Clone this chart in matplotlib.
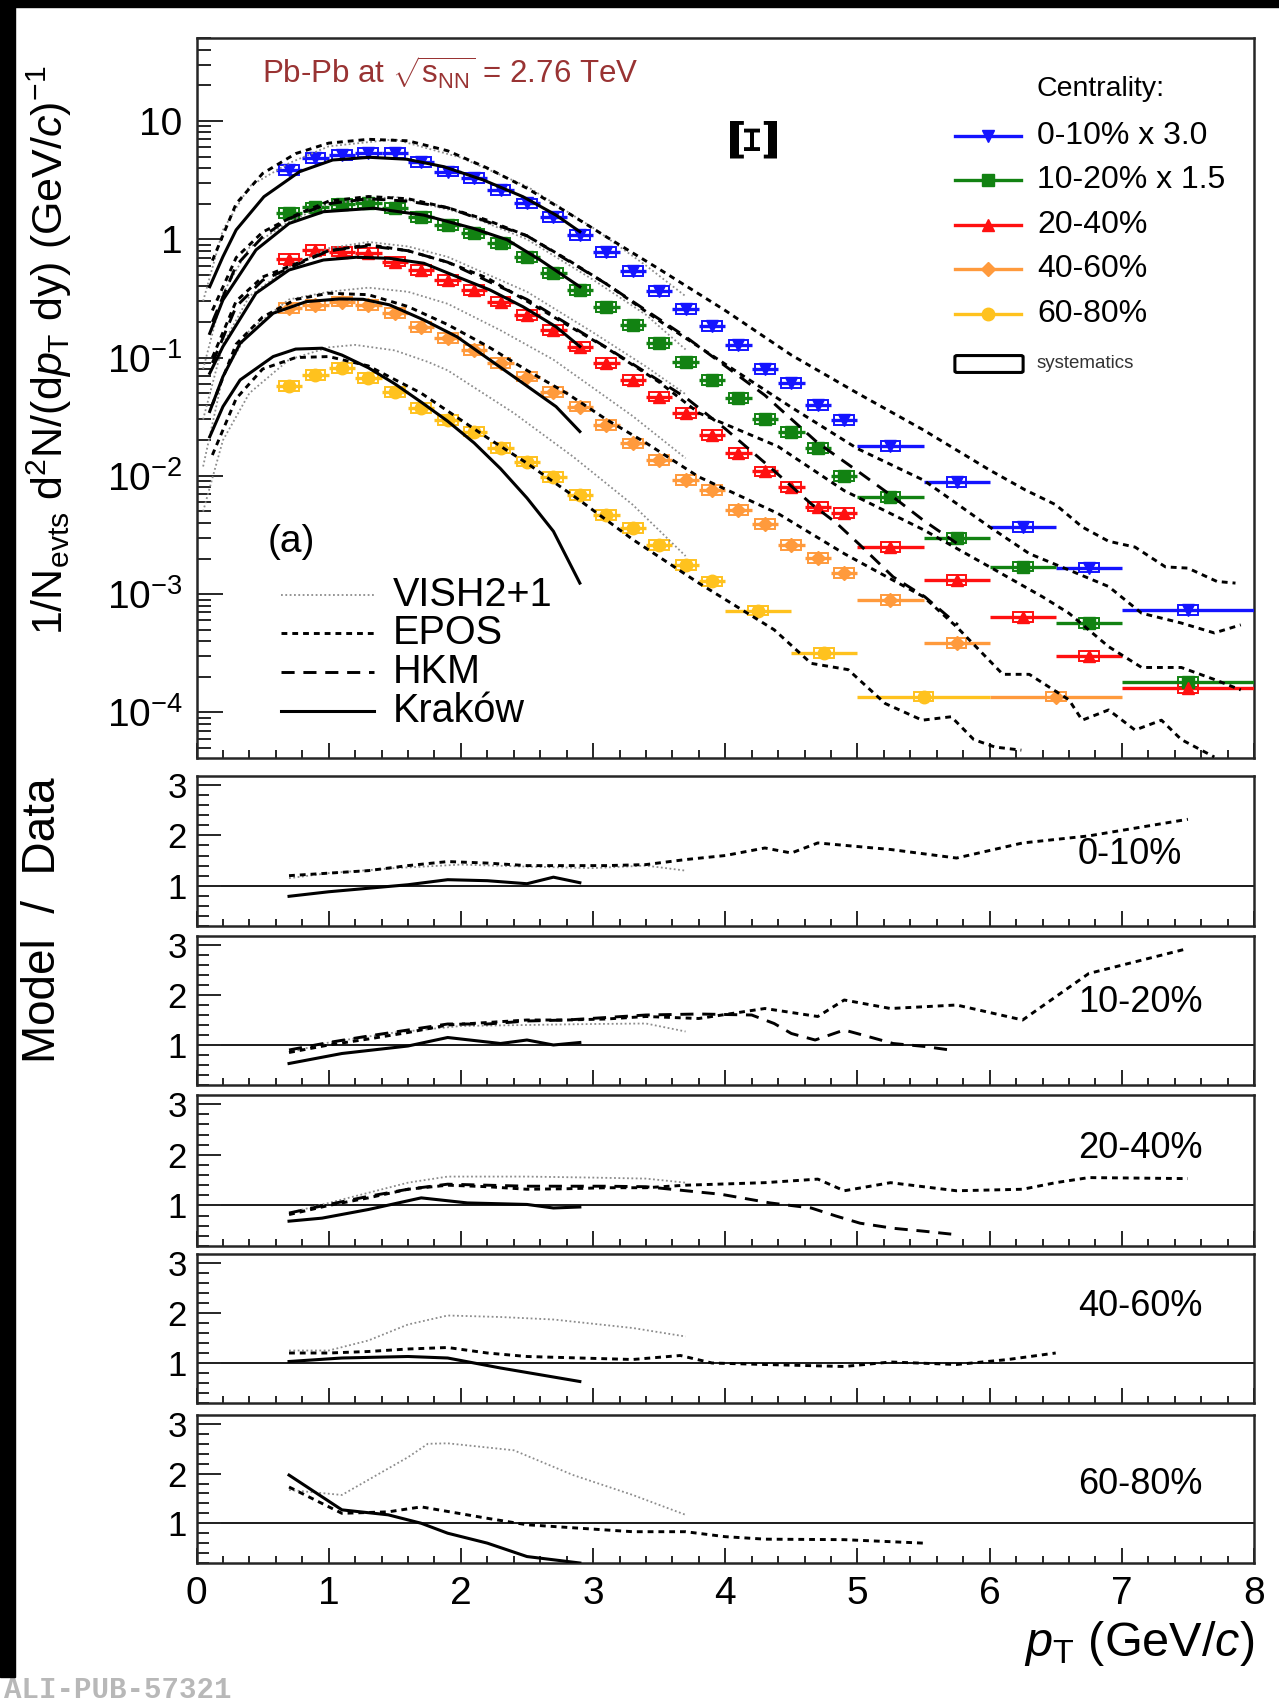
import matplotlib.pyplot as plt
from matplotlib.patches import Rectangle, FancyBboxPatch
from matplotlib.ticker import FixedLocator, FixedFormatter, MultipleLocator, NullFormatter

plt.rcParams['font.family'] = ['Liberation Sans', 'DejaVu Sans']
plt.rcParams['mathtext.fontset'] = 'custom'
plt.rcParams['mathtext.rm'] = 'Liberation Sans'
plt.rcParams['mathtext.it'] = 'Liberation Sans:italic'
plt.rcParams['mathtext.bf'] = 'Liberation Sans:bold'

W, H = 1279, 1702

# ---------------- measured Xi spectra (bin centres, half widths, yields) ----------------
pt_full = [0.7, 0.9, 1.1, 1.3, 1.5, 1.7, 1.9, 2.1, 2.3, 2.5, 2.7, 2.9, 3.1, 3.3, 3.5, 3.7,
           3.9, 4.1, 4.3, 4.5, 4.7, 4.9, 5.25, 5.75, 6.25, 6.75, 7.5]
hw_full = [0.1] * 22 + [0.25, 0.25, 0.25, 0.25, 0.5]
pt_4060 = [0.7, 0.9, 1.1, 1.3, 1.5, 1.7, 1.9, 2.1, 2.3, 2.5, 2.7, 2.9, 3.1, 3.3, 3.5, 3.7,
           3.9, 4.1, 4.3, 4.5, 4.7, 4.9, 5.25, 5.75, 6.5]
hw_4060 = [0.1] * 22 + [0.25, 0.25, 0.5]
pt_6080 = [0.7, 0.9, 1.1, 1.3, 1.5, 1.7, 1.9, 2.1, 2.3, 2.5, 2.7, 2.9, 3.1, 3.3, 3.5, 3.7,
           3.9, 4.25, 4.75, 5.5]
hw_6080 = [0.1] * 17 + [0.25, 0.25, 0.5]

y_0010 = [3.85, 4.84, 5.17, 5.40, 5.33, 4.53, 3.73, 3.28, 2.61, 2.01, 1.55, 1.09, 0.785, 0.54,
          0.366, 0.258, 0.185, 0.128, 0.080, 0.0607, 0.0397, 0.0297, 0.018, 0.00893, 0.00372,
          0.00168, 0.000736]
y_1020 = [1.66, 1.86, 1.99, 2.01, 1.83, 1.55, 1.32, 1.12, 0.925, 0.713, 0.516, 0.373, 0.269,
          0.189, 0.132, 0.0923, 0.0647, 0.0453, 0.0301, 0.0236, 0.0171, 0.00997, 0.00667,
          0.00297, 0.00171, 0.000567, 0.000182]
y_2040 = [0.678, 0.813, 0.786, 0.761, 0.647, 0.55, 0.453, 0.373, 0.297, 0.229, 0.171, 0.124,
          0.0895, 0.0647, 0.0468, 0.0338, 0.0222, 0.0157, 0.0109, 0.0081, 0.0055, 0.00483,
          0.00252, 0.00132, 0.000638, 0.000301, 0.00016]
y_4060 = [0.261, 0.279, 0.297, 0.279, 0.237, 0.182, 0.146, 0.116, 0.0895, 0.069, 0.0515,
          0.0385, 0.0269, 0.0188, 0.0136, 0.00923, 0.0076, 0.00515, 0.00392, 0.0026, 0.00201,
          0.0015, 0.000894, 0.000389, 0.000136]
y_6080 = [0.0576, 0.0713, 0.0813, 0.0668, 0.0515, 0.0373, 0.0297, 0.0237, 0.0171, 0.0132,
          0.00984, 0.0069, 0.00468, 0.00361, 0.0026, 0.00177, 0.00128, 0.000727, 0.00032,
          0.000136]

cent_labels = ['0-10% x 3.0', '10-20% x 1.5', '20-40%', '40-60%', '60-80%']
cent_short = ['0-10%', '10-20%', '20-40%', '40-60%', '60-80%']
cent_colors = ['#1414ff', '#128212', '#ff1010', '#ff9a3c', '#ffc21e']
cent_markers = ['v', 's', '^', 'D', 'o']

# ---------------- model curves on the spectra ----------------
# EPOS
epos_pt = [
    [0.12, 0.3, 0.5, 0.75, 1.0, 1.3, 1.6, 1.9, 2.2, 2.5, 2.8, 3.1, 3.5, 4.0, 4.5, 5.0, 5.5,
     6.0, 6.27, 6.5, 6.7, 6.9, 7.1, 7.33, 7.5, 7.72, 7.86],
    [0.12, 0.3, 0.5, 0.75, 1.0, 1.3, 1.6, 1.9, 2.2, 2.5, 2.8, 3.1, 3.5, 4.0, 4.5, 5.0, 5.5,
     6.0, 6.3, 6.6, 6.9, 7.15, 7.45, 7.7, 7.9],
    [0.12, 0.3, 0.5, 0.75, 1.0, 1.3, 1.6, 1.9, 2.2, 2.5, 2.8, 3.1, 3.5, 3.8, 4.4, 4.9, 5.5,
     6.0, 6.4, 6.6, 6.9, 7.15, 7.45, 7.7, 7.9],
    [0.12, 0.3, 0.5, 0.75, 1.0, 1.3, 1.6, 1.9, 2.2, 2.5, 2.8, 3.1, 3.4, 3.8, 4.4, 4.9, 5.5,
     5.75, 6.1, 6.3, 6.6, 6.7, 6.9, 7.1, 7.3, 7.45, 7.7],
    [0.12, 0.3, 0.5, 0.75, 1.0, 1.3, 1.7, 2.2, 2.5, 2.9, 3.3, 3.8, 4.37, 4.65, 4.93, 5.21,
     5.49, 5.71, 5.88, 6.04, 6.24],
]
epos_y = [
    [0.66, 2.0, 3.6, 5.3, 6.5, 7.0, 6.8, 5.6, 4.0, 2.7, 1.7, 1.05, 0.56, 0.25, 0.105, 0.05,
     0.0244, 0.0112, 0.0076, 0.0057, 0.0037, 0.0028, 0.0025, 0.0017, 0.00166, 0.00128, 0.00124],
    [0.25, 0.7, 1.15, 1.6, 2.1, 2.3, 2.2, 1.85, 1.45, 1.07, 0.68, 0.42, 0.205, 0.088, 0.038,
     0.017, 0.0092, 0.0037, 0.0022, 0.0016, 0.00116, 0.00069, 0.00057, 0.00047, 0.00055],
    [0.1, 0.3, 0.48, 0.62, 0.8, 0.9, 0.8, 0.64, 0.47, 0.3, 0.19, 0.121, 0.062, 0.034, 0.0177,
     0.0075, 0.0035, 0.0017, 0.00095, 0.00069, 0.00036, 0.00024, 0.00024, 0.00019, 0.000155],
    [0.04, 0.13, 0.22, 0.31, 0.35, 0.34, 0.27, 0.19, 0.125, 0.078, 0.05, 0.03, 0.019, 0.0098,
     0.0048, 0.0022, 0.00095, 0.00053, 0.00021, 0.00021, 0.000128, 8.6e-5, 0.000105, 7.1e-5,
     8.6e-5, 5.9e-5, 4.2e-5],
    [0.015, 0.045, 0.08, 0.1, 0.102, 0.085, 0.05, 0.021, 0.0128, 0.0062, 0.0029, 0.00124,
     0.0005, 0.00026, 0.00023, 0.000119, 8.6e-5, 9.2e-5, 5.9e-5, 5.1e-5, 4.8e-5],
]

# HKM (10-20% and 20-40%)
hkm_pt = [
    [0.12, 0.3, 0.5, 0.7, 1.0, 1.3, 1.6, 1.9, 2.5, 3.1, 3.7, 4.3, 4.7, 5.0, 5.25, 5.5, 5.75],
    [0.12, 0.3, 0.5, 0.7, 1.0, 1.3, 1.6, 1.9, 2.5, 3.1, 3.7, 4.0, 4.34, 4.65, 4.84, 5.02, 5.27,
     5.51, 5.76],
]
hkm_y = [
    [0.2, 0.6, 1.05, 1.5, 2.0, 2.2, 2.1, 1.85, 1.07, 0.42, 0.15, 0.048, 0.019, 0.011, 0.0069,
     0.0042, 0.0027],
    [0.09, 0.27, 0.45, 0.57, 0.8, 0.88, 0.8, 0.64, 0.31, 0.122, 0.046, 0.025, 0.0118, 0.0058,
     0.004, 0.0026, 0.0014, 0.00095, 0.00055],
]

# Krakow
krak_pt = [
    [0.1, 0.2, 0.3, 0.51, 0.78, 1.03, 1.31, 1.59, 1.87, 2.17, 2.47, 2.72, 2.9],
    [0.1, 0.2, 0.45, 0.7, 0.96, 1.34, 1.72, 2.09, 2.35, 2.6, 2.9],
    [0.1, 0.2, 0.45, 0.7, 0.96, 1.21, 1.46, 1.72, 1.97, 2.22, 2.47, 2.72, 2.9],
    [0.1, 0.2, 0.33, 0.58, 0.83, 1.08, 1.26, 1.46, 1.72, 1.97, 2.22, 2.47, 2.72, 2.9],
    [0.1, 0.2, 0.33, 0.58, 0.75, 0.95, 1.1, 1.3, 1.5, 1.7, 1.9, 2.1, 2.3, 2.5, 2.7, 2.9],
]
krak_y = [
    [0.397, 0.713, 1.2, 2.29, 3.73, 4.68, 4.93, 4.75, 4.11, 3.17, 2.29, 1.6, 1.16],
    [0.16, 0.307, 0.813, 1.36, 1.71, 1.83, 1.6, 1.24, 0.99, 0.668, 0.397],
    [0.0736, 0.124, 0.35, 0.55, 0.668, 0.705, 0.69, 0.627, 0.483, 0.373, 0.269, 0.182, 0.124],
    [0.035, 0.069, 0.132, 0.237, 0.297, 0.313, 0.311, 0.279, 0.208, 0.15, 0.0955, 0.0607,
     0.0385, 0.0237],
    [0.0214, 0.0385, 0.0647, 0.102, 0.118, 0.12, 0.105, 0.082, 0.06, 0.042, 0.029, 0.019,
     0.0115, 0.0065, 0.0034, 0.00124],
]

# VISH2+1
vish_pt = [
    [0.05, 0.2, 0.4, 0.7, 1.0, 1.5, 2.0, 2.5, 3.0, 3.4, 3.7],
    [0.05, 0.2, 0.4, 0.7, 1.0, 1.5, 2.0, 2.5, 3.0, 3.4, 3.7],
    [0.05, 0.2, 0.4, 0.7, 1.0, 1.3, 1.6, 1.9, 2.5, 3.0, 3.4, 3.7],
    [0.05, 0.2, 0.4, 0.7, 1.0, 1.3, 1.6, 1.9, 2.3, 2.7, 3.3, 3.7],
    [0.05, 0.2, 0.4, 0.7, 1.0, 1.2, 1.5, 1.75, 1.9, 2.4, 2.85, 3.3, 3.7],
]
vish_y = [
    [0.3, 1.2, 2.8, 4.4, 6.1, 7.0, 4.9, 2.8, 1.25, 0.6, 0.33],
    [0.08, 0.35, 0.85, 1.41, 2.0, 2.29, 1.68, 1.0, 0.455, 0.23, 0.117],
    [0.03, 0.13, 0.33, 0.58, 0.84, 0.95, 0.87, 0.71, 0.36, 0.163, 0.084, 0.049],
    [0.012, 0.07, 0.17, 0.31, 0.36, 0.39, 0.36, 0.285, 0.17, 0.096, 0.032, 0.0141],
    [0.005, 0.02, 0.05, 0.096, 0.122, 0.128, 0.115, 0.092, 0.078, 0.034, 0.0145, 0.0057,
     0.0021],
]

# ---------------- model / data ratios ----------------
r_epos_pt = [
    [0.7, 1.0, 1.3, 1.6, 1.9, 2.2, 2.5, 2.8, 3.1, 3.4, 3.7, 4.0, 4.3, 4.5, 4.7, 5.25, 5.75,
     6.25, 6.75, 7.5],
    [0.7, 1.0, 1.3, 1.6, 1.9, 2.2, 2.5, 2.8, 3.1, 3.4, 3.8, 4.3, 4.7, 4.9, 5.25, 5.75, 6.25,
     6.75, 7.5],
    [0.7, 1.0, 1.3, 1.6, 1.9, 2.2, 2.5, 2.8, 3.1, 3.4, 3.7, 4.3, 4.7, 4.9, 5.25, 5.75, 6.25,
     6.5, 6.75, 7.5],
    [0.7, 1.0, 1.3, 1.6, 1.9, 2.2, 2.5, 2.9, 3.3, 3.66, 3.9, 4.3, 4.9, 5.25, 5.75, 6.14, 6.5],
    [0.7, 1.1, 1.45, 1.7, 2.2, 2.5, 3.3, 3.7, 4.0, 4.3, 4.9, 5.5],
]
r_epos = [
    [1.2, 1.25, 1.3, 1.4, 1.48, 1.45, 1.4, 1.4, 1.4, 1.42, 1.52, 1.6, 1.75, 1.65, 1.85, 1.72,
     1.55, 1.85, 1.99, 2.32],
    [0.85, 1.0, 1.12, 1.25, 1.4, 1.45, 1.5, 1.5, 1.52, 1.57, 1.53, 1.73, 1.57, 1.9, 1.73, 1.8,
     1.5, 2.43, 2.93],
    [0.82, 1.0, 1.15, 1.32, 1.4, 1.37, 1.32, 1.33, 1.35, 1.35, 1.4, 1.45, 1.52, 1.29, 1.45,
     1.29, 1.32, 1.45, 1.55, 1.53],
    [1.2, 1.2, 1.23, 1.28, 1.31, 1.2, 1.13, 1.1, 1.07, 1.15, 1.0, 0.97, 0.93, 1.02, 0.97, 1.07,
     1.2],
    [1.73, 1.2, 1.23, 1.33, 1.1, 0.97, 0.83, 0.83, 0.73, 0.68, 0.67, 0.6],
]
r_hkm_pt = [
    None,
    [0.7, 1.0, 1.3, 1.6, 1.9, 2.2, 2.5, 2.8, 3.1, 3.4, 3.8, 4.2, 4.37, 4.5, 4.68, 4.9, 5.08,
     5.27, 5.51, 5.7],
    [0.7, 1.0, 1.3, 1.6, 1.9, 2.2, 2.5, 2.8, 3.1, 3.4, 3.97, 4.34, 4.65, 4.84, 5.02, 5.27,
     5.51, 5.76],
    None,
    None,
]
r_hkm = [
    None,
    [0.9, 1.05, 1.18, 1.3, 1.42, 1.42, 1.48, 1.5, 1.55, 1.6, 1.62, 1.6, 1.43, 1.23, 1.1, 1.3,
     1.17, 1.03, 0.97, 0.9],
    [0.85, 1.02, 1.18, 1.32, 1.42, 1.4, 1.38, 1.38, 1.38, 1.37, 1.22, 1.05, 0.95, 0.79, 0.65,
     0.55, 0.49, 0.42],
    None,
    None,
]
r_krak_pt = [
    [0.7, 1.0, 1.3, 1.6, 1.9, 2.2, 2.5, 2.7, 2.9],
    [0.7, 1.1, 1.6, 1.9, 2.3, 2.5, 2.7, 2.9],
    [0.7, 0.95, 1.3, 1.7, 2.05, 2.5, 2.7, 2.9],
    [0.7, 1.1, 1.6, 1.9, 2.3, 2.9],
    [0.7, 1.1, 1.45, 1.7, 1.9, 2.2, 2.5, 2.9],
]
r_krak = [
    [0.79, 0.88, 0.95, 1.02, 1.12, 1.1, 1.04, 1.17, 1.06],
    [0.63, 0.83, 0.98, 1.15, 1.03, 1.1, 1.0, 1.05],
    [0.69, 0.75, 0.92, 1.15, 1.05, 1.02, 0.95, 0.97],
    [1.03, 1.1, 1.13, 1.1, 0.9, 0.63],
    [1.97, 1.27, 1.17, 1.0, 0.8, 0.6, 0.33, 0.2],
]
r_vish_pt = [
    [0.7, 1.0, 1.5, 2.0, 2.5, 3.0, 3.4, 3.7],
    [0.7, 1.0, 1.5, 2.0, 2.5, 3.0, 3.4, 3.7],
    [0.7, 1.0, 1.3, 1.6, 1.9, 2.5, 3.0, 3.4, 3.7],
    [0.7, 1.0, 1.3, 1.6, 1.9, 2.3, 2.7, 3.3, 3.7],
    [0.7, 1.1, 1.6, 1.75, 1.9, 2.4, 2.85, 3.3, 3.7],
]
r_vish = [
    [1.15, 1.25, 1.35, 1.42, 1.38, 1.35, 1.4, 1.3],
    [0.85, 1.05, 1.25, 1.38, 1.4, 1.42, 1.43, 1.27],
    [0.85, 1.05, 1.25, 1.45, 1.57, 1.57, 1.55, 1.53, 1.45],
    [1.25, 1.25, 1.45, 1.77, 1.95, 1.92, 1.87, 1.7, 1.53],
    [1.67, 1.57, 2.33, 2.6, 2.61, 2.47, 1.97, 1.57, 1.17],
]

# line styles for the four models
STY_VISH = dict(color='#8c8c8c', lw=1.3, ls=(0, (1.0, 1.4)))
STY_EPOS = dict(color='black', lw=2.1, ls=(0, (2.0, 1.7)))
STY_HKM = dict(color='black', lw=2.1, ls=(0, (4.5, 3.0)))
STY_KRAK = dict(color='black', lw=2.2, ls='-')


def px_axes(fig, left, top, right, bottom):
    return fig.add_axes([left / W, 1 - bottom / H, (right - left) / W, (bottom - top) / H])


def style_frame(ax):
    for sp in ax.spines.values():
        sp.set_linewidth(1.8)
        sp.set_color('#262626')
    ax.tick_params(which='both', direction='in', top=False, right=False, width=1.4,
                   color='#262626')


fig = plt.figure(figsize=(W / 100, H / 100), dpi=100)
fig.patch.set_facecolor('white')

# ---------------- spectra panel ----------------
ax = px_axes(fig, 196.5, 38, 1254, 758)
style_frame(ax)
ax.set_yscale('log')
ax.set_xlim(0, 8)
ax.set_ylim(4.12e-5, 50.3)

spectra = [(pt_full, hw_full, y_0010), (pt_full, hw_full, y_1020), (pt_full, hw_full, y_2040),
           (pt_4060, hw_4060, y_4060), (pt_6080, hw_6080, y_6080)]
for (pt, hw, yy), col, mk in zip(spectra, cent_colors, cent_markers):
    for x, v in zip(pt, yy):
        ax.add_patch(Rectangle((x - 0.075, v * 0.91), 0.15, v * 0.19, fill=False,
                               edgecolor=col, lw=1.4, zorder=2))
    ax.errorbar(pt, yy, xerr=hw, fmt=mk, color=col, ms=9 if mk != 'D' else 7,
                elinewidth=2.4, capsize=0, zorder=3)

for px_, py_ in zip(vish_pt, vish_y):
    ax.plot(px_, py_, zorder=4, **STY_VISH)
for px_, py_ in zip(epos_pt, epos_y):
    ax.plot(px_, py_, zorder=5, **STY_EPOS)
for px_, py_ in zip(hkm_pt, hkm_y):
    ax.plot(px_, py_, zorder=5, **STY_HKM)
for px_, py_ in zip(krak_pt, krak_y):
    ax.plot(px_, py_, zorder=5, **STY_KRAK)

ax.xaxis.set_major_locator(MultipleLocator(1))
ax.xaxis.set_minor_locator(MultipleLocator(0.2))
ax.xaxis.set_major_formatter(NullFormatter())
ax.tick_params(axis='x', which='major', length=11)
ax.tick_params(axis='x', which='minor', length=5.5)
decades = [1e-4, 1e-3, 1e-2, 1e-1, 1, 10]
ax.yaxis.set_major_locator(FixedLocator(decades))
ax.yaxis.set_major_formatter(FixedFormatter([r'10$^{-4}$', r'10$^{-3}$', r'10$^{-2}$',
                                             r'10$^{-1}$', '1', '10']))
minors = [m * d for d in [1e-5, 1e-4, 1e-3, 1e-2, 1e-1, 1, 10] for m in range(2, 10)]
ax.yaxis.set_minor_locator(FixedLocator(minors))
ax.yaxis.set_minor_formatter(NullFormatter())
ax.tick_params(axis='y', which='major', length=19, labelsize=28, pad=10)
ax.tick_params(axis='y', which='minor', length=10)


def to_ax(px, py):
    return (px - 196.5) / 1057.5, (758 - py) / 720


# collision system label and particle
ax.text(*to_ax(262, 73), r'Pb-Pb at $\sqrt{\rm s_{NN}}$ = 2.76 TeV', color='#993333',
        fontsize=22.5, va='center', ha='left', transform=ax.transAxes)
ax.text(*to_ax(757, 136), '\u039e', fontsize=46, fontweight='bold', family='DejaVu Serif',
        rotation=90, ha='center', va='center', transform=ax.transAxes)
ax.text(*to_ax(291, 542), '(a)', fontsize=28, ha='center', va='center', transform=ax.transAxes)

# centrality legend
ax.text(*to_ax(1037, 89), 'Centrality:', fontsize=20.5, va='center', transform=ax.transAxes)
leg_rows = [136, 180, 225, 269, 314]
for lab, col, mk, py in zip(cent_labels, cent_colors, cent_markers, leg_rows):
    x0, y0 = to_ax(955, py)
    x1, _ = to_ax(1021, py)
    xm, _ = to_ax(988, py)
    ax.plot([x0, x1], [y0, y0], color=col, lw=2.4, transform=ax.transAxes, zorder=6)
    ax.plot([xm], [y0], marker=mk, color=col, ms=9 if mk != 'D' else 7,
            transform=ax.transAxes, zorder=6)
    ax.text(*to_ax(1037, py), lab, fontsize=23, va='center', transform=ax.transAxes)
bx0, by0 = to_ax(957, 371)
bx1, by1 = to_ax(1021, 357)
ax.add_patch(FancyBboxPatch((bx0, by0), bx1 - bx0, by1 - by0, boxstyle='round,pad=0.002',
                            fill=False, edgecolor='black', lw=2.2, transform=ax.transAxes))
ax.text(*to_ax(1037, 364), 'systematics', fontsize=13.5, va='center', color='#333333',
        transform=ax.transAxes)

# model legend
model_rows = [(595, 'VISH2+1', STY_VISH), (633, 'EPOS', STY_EPOS), (672, 'HKM', STY_HKM),
              (711, 'Krak\u00f3w', STY_KRAK)]
for py, lab, sty in model_rows:
    x0, y0 = to_ax(281, py)
    x1, _ = to_ax(374, py)
    ax.plot([x0, x1], [y0, y0], transform=ax.transAxes, **sty)
    ax.text(*to_ax(393, py), lab, fontsize=28.5, va='center', transform=ax.transAxes)

# ---------------- model / data panels ----------------
ratio_boxes = [(776, 926), (936, 1085), (1095, 1246), (1254, 1403), (1415, 1563)]
label_y = [855, 1002, 1148, 1306, 1484]
for i, (top, bot) in enumerate(ratio_boxes):
    rax = px_axes(fig, 196.5, top, 1254, bot)
    style_frame(rax)
    rax.set_xlim(0, 8)
    rax.set_ylim(0.2, 3.18)
    rax.axhline(1, color='#1a1a1a', lw=1.4, zorder=1)
    rax.plot(r_vish_pt[i], r_vish[i], zorder=3, **STY_VISH)
    rax.plot(r_epos_pt[i], r_epos[i], zorder=4, **STY_EPOS)
    if r_hkm_pt[i] is not None:
        rax.plot(r_hkm_pt[i], r_hkm[i], zorder=4, **STY_HKM)
    rax.plot(r_krak_pt[i], r_krak[i], zorder=4, **STY_KRAK)
    rax.xaxis.set_major_locator(MultipleLocator(1))
    rax.xaxis.set_minor_locator(MultipleLocator(0.2))
    rax.yaxis.set_major_locator(FixedLocator([1, 2, 3]))
    rax.yaxis.set_minor_locator(MultipleLocator(0.2))
    rax.tick_params(axis='x', which='major', length=11)
    rax.tick_params(axis='x', which='minor', length=5)
    rax.tick_params(axis='y', which='major', length=17, labelsize=25, pad=7)
    rax.tick_params(axis='y', which='minor', length=8.5)
    if i < 4:
        rax.xaxis.set_major_formatter(NullFormatter())
    else:
        rax.tick_params(axis='x', which='major', labelsize=28, pad=9)
    rax.text((1078 - 196.5) / 1057.5, (bot - label_y[i]) / (bot - top), cent_short[i],
             fontsize=26, va='center', ha='left', transform=rax.transAxes)

# axis titles
fig.text(49 / W, 1 - 350 / H,
         r'1/N$_{\rm evts}$ d$^{2}$N/(d$p_{\rm T}$ dy) (GeV/$c$)$^{-1}$',
         rotation=90, fontsize=31, ha='center', va='center')
fig.text(43 / W, 1 - 920 / H, 'Model  /  Data', rotation=90, fontsize=33,
         ha='center', va='center')
fig.text(1254 / W, 1 - 1643 / H, r'$p_{\rm T}$ (GeV/$c$)', fontsize=35,
         ha='right', va='center')

# page frame and preprint tag
fig.add_artist(Rectangle((0, 1 - 7 / H), 1, 7 / H, transform=fig.transFigure,
                         color='black', zorder=10))
fig.add_artist(Rectangle((0, 1 - 1677 / H), 15 / W, 1677 / H, transform=fig.transFigure,
                         color='black', zorder=10))
fig.text(4 / W, 1 - 1690 / H, 'ALI-PUB-57321', fontsize=21, family='Liberation Mono',
         fontweight='bold', color='#b8b8b8', ha='left', va='center')

fig.savefig('out.png', dpi=100, facecolor=fig.get_facecolor())
